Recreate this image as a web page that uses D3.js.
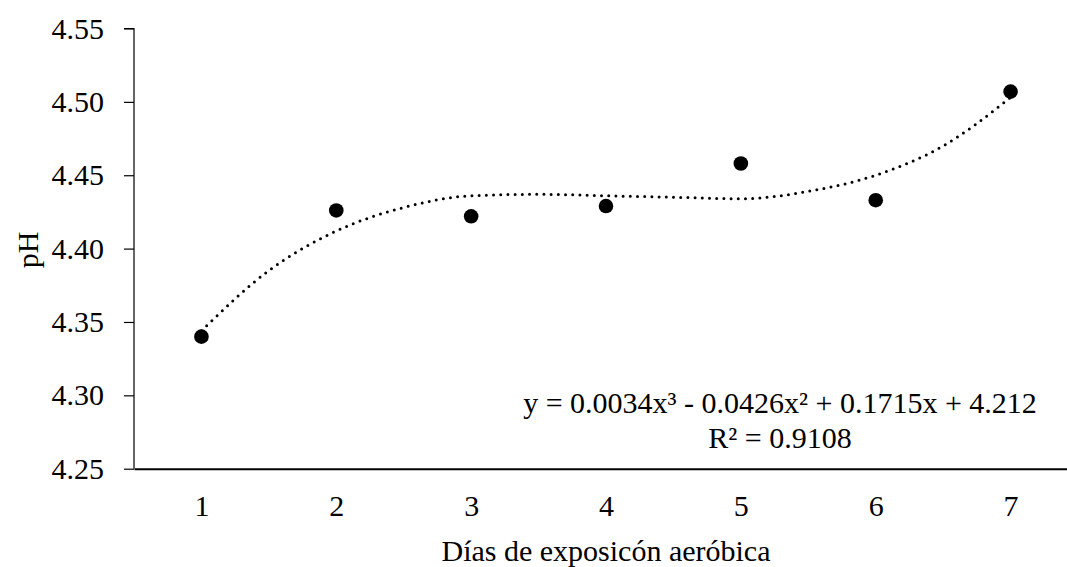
<!DOCTYPE html>
<html>
<head>
<meta charset="utf-8">
<script src="https://cdn.jsdelivr.net/npm/d3@7"></script>
<style>
  html, body { margin: 0; padding: 0; background: #fff; }
  svg, svg text { font-family: "Liberation Serif", "Times New Roman", serif !important; }
</style>
</head>
<body>
<div id="chart"></div>
<script>
// 数据：每天的 pH 平均值
const days = [1, 2, 3, 4, 5, 6, 7];
const phValues = [4.340, 4.426, 4.422, 4.429, 4.458, 4.433, 4.507];

// 多项式趋势线（从图上读取的取样点）
const trendDays = [1, 1.5, 2, 2.5, 3, 3.5, 4, 4.5, 5, 5.5, 6, 6.5, 7];
const trendPh = [4.344, 4.385, 4.412, 4.428, 4.436, 4.437, 4.436, 4.435, 4.434, 4.439, 4.450, 4.470, 4.503];

const yTicks = [4.25, 4.30, 4.35, 4.40, 4.45, 4.50, 4.55];
const equationText = 'y = 0.0034x³ - 0.0426x² + 0.1715x + 4.212';
const r2Text = 'R² = 0.9108';
const xTitle = 'Días de exposicón aeróbica';
const yTitle = 'pH';

drawChart();

function drawChart() {
  // 画布尺寸及边距（右侧超出画面，与原图一致被裁切）
  const W = 1067, H = 567;
  const margin = { top: 28.5, left: 134 };
  const width = 944;
  const height = 440.2;

  const svg = d3.select('#chart')
    .append('svg')
    .attr('width', W)
    .attr('height', H);

  const g = svg.append('g')
    .attr('transform', `translate(${margin.left},${margin.top})`);

  // x 轴：天数（每个类别居中）
  const x = d3.scaleLinear()
    .domain([0.5, 7.5])
    .range([0, width]);

  // y 轴：pH
  const y = d3.scaleLinear()
    .domain([4.25, 4.55])
    .range([height, 0]);

  // y 轴
  const yAxis = g.append('g')
    .call(d3.axisLeft(y).tickValues(yTicks).tickSize(10).tickPadding(20).tickFormat(d3.format('.2f')))
    .attr('font-family', null)
    .attr('font-size', 30);
  yAxis.select('.domain').attr('stroke', '#000').attr('stroke-width', 1.2).attr('d', `M-10,0H0V${height}`);
  yAxis.selectAll('.tick line').attr('stroke', '#000').attr('stroke-width', 1.2);
  yAxis.selectAll('.tick text').attr('fill', '#000');

  // x 轴
  const xAxis = g.append('g')
    .attr('transform', `translate(0,${height})`)
    .call(d3.axisBottom(x).tickValues(days).tickSize(0).tickPadding(26).tickFormat(d => d))
    .attr('font-family', null)
    .attr('font-size', 30);
  xAxis.select('.domain').attr('stroke', '#000').attr('stroke-width', 2);
  xAxis.selectAll('.tick text').attr('fill', '#000');

  // 趋势线（圆点虚线）
  const line = d3.line()
    .x((d, i) => x(d))
    .y((d, i) => y(trendPh[i]))
    .curve(d3.curveMonotoneX);

  g.append('path')
    .datum(trendDays)
    .attr('fill', 'none')
    .attr('stroke', '#000')
    .attr('stroke-width', 3)
    .attr('stroke-linecap', 'round')
    .attr('stroke-dasharray', '0 7.2')
    .attr('d', line);

  // 散点
  g.selectAll('circle.pt')
    .data(days)
    .enter()
    .append('circle')
      .attr('class', 'pt')
      .attr('cx', d => x(d))
      .attr('cy', (d, i) => y(phValues[i]))
      .attr('r', 7.3)
      .attr('fill', '#000');

  // 回归方程与 R²
  const eq = g.append('text')
    .attr('x', 646)
    .attr('y', 384.5)
    .attr('text-anchor', 'middle')
    .attr('font-size', 30)
    .attr('fill', '#000');
  eq.append('tspan').text(equationText);
  eq.append('tspan')
    .attr('x', 646)
    .attr('dy', 34.5)
    .text(r2Text);

  // x 轴 标签
  svg.append('text')
    .attr('x', margin.left + x(4))
    .attr('y', 561)
    .attr('text-anchor', 'middle')
    .attr('font-size', 30)
    .attr('fill', '#000')
    .text(xTitle);

  // y 轴 标签
  svg.append('text')
    .attr('transform', 'rotate(-90)')
    .attr('x', -250)
    .attr('y', 38)
    .attr('text-anchor', 'middle')
    .attr('font-size', 30)
    .attr('fill', '#000')
    .text(yTitle);
}
</script>
</body>
</html>
